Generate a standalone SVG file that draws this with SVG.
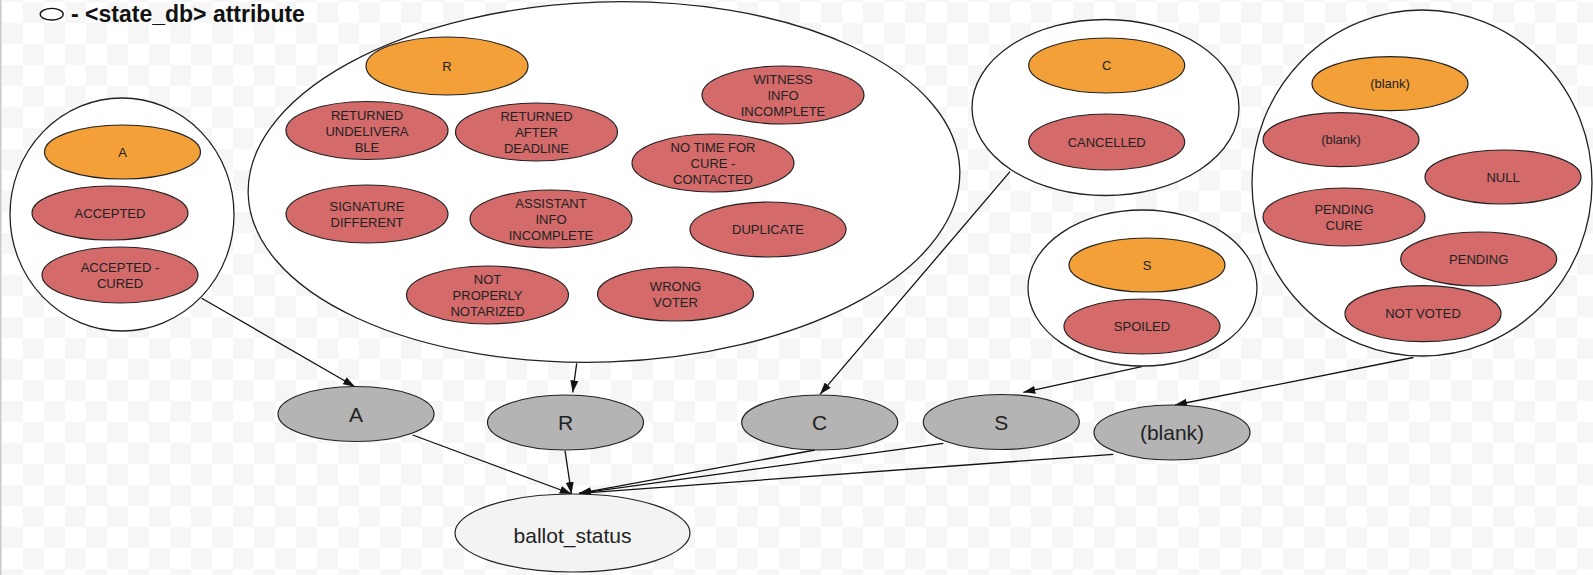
<svg xmlns="http://www.w3.org/2000/svg" width="1593" height="575" viewBox="0 0 1593 575">
<defs>
<pattern id="chk" x="2" y="2" width="42" height="42" patternUnits="userSpaceOnUse">
<rect width="42" height="42" fill="#ffffff"/>
<rect x="21" y="0" width="21" height="21" fill="#f6f6f6"/>
<rect x="0" y="21" width="21" height="21" fill="#f6f6f6"/>
</pattern>
<marker id="arr" viewBox="0 0 12 8" refX="12" refY="4" markerWidth="12" markerHeight="8" markerUnits="userSpaceOnUse" orient="auto">
<path d="M0,0 L12,4 L0,8 z" fill="#111"/>
</marker>
</defs>
<style>
.grp{fill:#ffffff;stroke:#222;stroke-width:1.3}
.org{fill:#f2a037;stroke:#222;stroke-width:1.2}
.red{fill:#d46a6a;stroke:#222;stroke-width:1.2}
.gry{fill:#b4b4b4;stroke:#222;stroke-width:1.2}
.bal{fill:#f3f3f3;stroke:#222;stroke-width:1.2}
.t{font-family:"Liberation Sans",Arial,sans-serif;font-size:13px;fill:#222;text-anchor:middle}
.tb{font-family:"Liberation Sans",Arial,sans-serif;font-size:21px;fill:#222;text-anchor:middle}
.lg{font-family:"Liberation Sans",Arial,sans-serif;font-size:23px;font-weight:bold;fill:#111}
.cn{stroke:#111;stroke-width:1.3;fill:none;marker-end:url(#arr)}
</style>
<rect width="1593" height="575" fill="url(#chk)"/>
<rect x="0" y="0" width="1.6" height="575" fill="#cccccc"/>

<g id="legend">
<ellipse cx="51.7" cy="14.2" rx="11.5" ry="5.8" fill="#fff" stroke="#111" stroke-width="1.3"/>
<text class="lg" x="71" y="21.5">- &lt;state_db&gt; attribute</text>
</g>

<g id="group-A">
<ellipse class="grp" cx="122" cy="214.5" rx="112" ry="116.5"/>
<g id="A-code"><ellipse class="org" cx="122.5" cy="152" rx="78" ry="27"/><text class="t" x="122.5" y="156.7">A</text></g>
<g id="ACCEPTED"><ellipse class="red" cx="110" cy="213" rx="78" ry="27"/><text class="t" x="110" y="217.7">ACCEPTED</text></g>
<g id="ACCEPTED-CURED"><ellipse class="red" cx="120" cy="275" rx="78" ry="28"/><text class="t" x="120" y="271.7">ACCEPTED -</text><text class="t" x="120" y="287.7">CURED</text></g>
</g>

<g id="group-R">
<ellipse class="grp" cx="604" cy="182" rx="356" ry="180" transform="rotate(-2 604 182)"/>
<g id="R-code"><ellipse class="org" cx="447" cy="66" rx="81" ry="29"/><text class="t" x="447" y="70.7">R</text></g>
<g id="RETURNED-UNDELIVERABLE"><ellipse class="red" cx="367" cy="130.5" rx="81" ry="29"/><text class="t" x="367" y="119.7">RETURNED</text><text class="t" x="367" y="135.7">UNDELIVERA</text><text class="t" x="367" y="151.7">BLE</text></g>
<g id="RETURNED-AFTER-DEADLINE"><ellipse class="red" cx="536.5" cy="132" rx="81" ry="29"/><text class="t" x="536.5" y="120.7">RETURNED</text><text class="t" x="536.5" y="136.7">AFTER</text><text class="t" x="536.5" y="152.7">DEADLINE</text></g>
<g id="WITNESS-INFO-INCOMPLETE"><ellipse class="red" cx="783" cy="95" rx="81" ry="29"/><text class="t" x="783" y="83.7">WITNESS</text><text class="t" x="783" y="99.7">INFO</text><text class="t" x="783" y="115.7">INCOMPLETE</text></g>
<g id="NO-TIME-FOR-CURE"><ellipse class="red" cx="713" cy="163" rx="81" ry="29"/><text class="t" x="713" y="151.7">NO TIME FOR</text><text class="t" x="713" y="167.7">CURE -</text><text class="t" x="713" y="183.7">CONTACTED</text></g>
<g id="SIGNATURE-DIFFERENT"><ellipse class="red" cx="367" cy="214" rx="81" ry="29"/><text class="t" x="367" y="210.7">SIGNATURE</text><text class="t" x="367" y="226.7">DIFFERENT</text></g>
<g id="ASSISTANT-INFO-INCOMPLETE"><ellipse class="red" cx="551" cy="219" rx="81" ry="29"/><text class="t" x="551" y="207.7">ASSISTANT</text><text class="t" x="551" y="223.7">INFO</text><text class="t" x="551" y="239.7">INCOMPLETE</text></g>
<g id="DUPLICATE"><ellipse class="red" cx="768" cy="229.5" rx="78" ry="27.5"/><text class="t" x="768" y="234.2">DUPLICATE</text></g>
<g id="NOT-PROPERLY-NOTARIZED"><ellipse class="red" cx="487.5" cy="295" rx="81" ry="29"/><text class="t" x="487.5" y="283.7">NOT</text><text class="t" x="487.5" y="299.7">PROPERLY</text><text class="t" x="487.5" y="315.7">NOTARIZED</text></g>
<g id="WRONG-VOTER"><ellipse class="red" cx="675.5" cy="294" rx="78" ry="27"/><text class="t" x="675.5" y="290.7">WRONG</text><text class="t" x="675.5" y="306.7">VOTER</text></g>
</g>

<g id="group-C">
<ellipse class="grp" cx="1105.5" cy="107.5" rx="133.5" ry="88"/>
<g id="C-code"><ellipse class="org" cx="1106.7" cy="65.5" rx="78" ry="27.5"/><text class="t" x="1106.7" y="70.2">C</text></g>
<g id="CANCELLED"><ellipse class="red" cx="1106.7" cy="142" rx="78" ry="28"/><text class="t" x="1106.7" y="146.7">CANCELLED</text></g>
</g>

<g id="group-S">
<ellipse class="grp" cx="1142.5" cy="288" rx="114.5" ry="78"/>
<g id="S-code"><ellipse class="org" cx="1147" cy="265" rx="78" ry="27"/><text class="t" x="1147" y="269.7">S</text></g>
<g id="SPOILED"><ellipse class="red" cx="1142" cy="326.5" rx="78" ry="27.5"/><text class="t" x="1142" y="331.2">SPOILED</text></g>
</g>

<g id="group-blank">
<ellipse class="grp" cx="1422" cy="183" rx="170" ry="173"/>
<g id="blank-code"><ellipse class="org" cx="1390" cy="83.7" rx="78" ry="27"/><text class="t" x="1390" y="88.4">(blank)</text></g>
<g id="blank-value"><ellipse class="red" cx="1341" cy="139.7" rx="78" ry="27"/><text class="t" x="1341" y="144.4">(blank)</text></g>
<g id="NULL"><ellipse class="red" cx="1503" cy="177" rx="78" ry="27"/><text class="t" x="1503" y="181.7">NULL</text></g>
<g id="PENDING-CURE"><ellipse class="red" cx="1344" cy="217" rx="81" ry="29"/><text class="t" x="1344" y="213.7">PENDING</text><text class="t" x="1344" y="229.7">CURE</text></g>
<g id="PENDING"><ellipse class="red" cx="1478.7" cy="259" rx="78" ry="27"/><text class="t" x="1478.7" y="263.7">PENDING</text></g>
<g id="NOT-VOTED"><ellipse class="red" cx="1423" cy="313.7" rx="78" ry="28"/><text class="t" x="1423" y="318.4">NOT VOTED</text></g>
</g>

<g id="connectors">
<line class="cn" x1="201.7" y1="298.3" x2="355" y2="386.7"/>
<line class="cn" x1="576.7" y1="363.3" x2="572.7" y2="392.5"/>
<line class="cn" x1="1010" y1="171.7" x2="820" y2="394.3"/>
<line class="cn" x1="1141.7" y1="366.7" x2="1023.3" y2="392.3"/>
<line class="cn" x1="1413.3" y1="357.5" x2="1175" y2="405"/>
<line class="cn" x1="412.7" y1="435" x2="571.7" y2="494"/>
<line class="cn" x1="565" y1="450.7" x2="571.5" y2="494"/>
<line class="cn" x1="815" y1="450" x2="579" y2="493.3"/>
<line class="cn" x1="943.3" y1="443.3" x2="579" y2="493.3"/>
<line class="cn" x1="1113.3" y1="454.3" x2="579" y2="493.3"/>
</g>

<g id="node-A"><ellipse class="gry" cx="356" cy="414" rx="78" ry="27.5"/><text class="tb" x="356" y="421.5">A</text></g>
<g id="node-R"><ellipse class="gry" cx="565.5" cy="422.5" rx="78" ry="27.5"/><text class="tb" x="565.5" y="430">R</text></g>
<g id="node-C"><ellipse class="gry" cx="819.7" cy="422.5" rx="78" ry="27.5"/><text class="tb" x="819.7" y="430">C</text></g>
<g id="node-S"><ellipse class="gry" cx="1001.3" cy="422" rx="78" ry="27.5"/><text class="tb" x="1001.3" y="429.5">S</text></g>
<g id="node-blank"><ellipse class="gry" cx="1172" cy="432.5" rx="78" ry="27.5"/><text class="tb" x="1172" y="440">(blank)</text></g>
<g id="node-ballot_status"><ellipse class="bal" cx="572.5" cy="533" rx="117.5" ry="39"/><text class="tb" x="572.5" y="543">ballot_status</text></g>
</svg>
